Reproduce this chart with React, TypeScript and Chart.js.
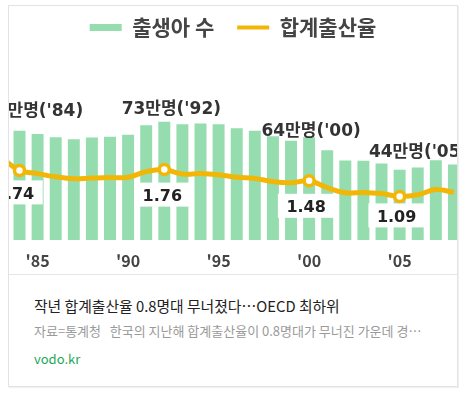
import React, { useEffect, useRef } from 'react';
import { Chart, registerables } from 'chart.js';

Chart.register(...registerables);

// ---- data ----
const YEARS = [1983, 1984, 1985, 1986, 1987, 1988, 1989, 1990, 1991, 1992, 1993, 1994, 1995, 1996, 1997, 1998, 1999, 2000, 2001, 2002, 2003, 2004, 2005, 2006, 2007, 2008];
// births, thousands
const BIRTHS = [769, 675, 655, 636, 623, 633, 639, 650, 709, 731, 716, 721, 715, 691, 675, 641, 614, 635, 555, 492, 490, 473, 435, 448, 493, 466];
// total fertility rate
const RATES = [2.06, 1.74, 1.66, 1.58, 1.53, 1.55, 1.56, 1.57, 1.71, 1.76, 1.65, 1.66, 1.63, 1.57, 1.54, 1.46, 1.43, 1.48, 1.31, 1.18, 1.19, 1.16, 1.09, 1.13, 1.26, 1.19];
const HIGHLIGHT_YEARS = [1984, 1992, 2000, 2005];
const TICK_YEARS = [1985, 1990, 1995, 2000, 2005];
const SERIES_NAMES = ['출생아 수', '합계출산율'];

const TITLE = '작년 합계출산율 0.8명대 무너졌다…OECD 최하위';
const DESC = '자료=통계청   한국의 지난해 합계출산율이 0.8명대가 무너진 가운데 경…';
const SOURCE = 'vodo.kr';

// ---- styles ----
const GREEN = '#95dcae';
const YELLOW = '#f2b706';
const NUM_FONT = '"DejaVu Sans", "Noto Sans CJK KR", sans-serif';
const KR_FONT = '"Noto Sans CJK KR", sans-serif';
const LEGEND_STYLES = ['rect', 'line'];
// label offsets (px) relative to the data point, per highlighted year
const BIRTH_LABEL_OFFSET = [[14, -19], [7, -12], [2, -6], [19, -17]];
const RATE_LABEL_OFFSET = [[-5, 24], [-2, 27], [-3, 27], [-3, 21]];

const yy = (y: number) => String(y).slice(2);

const labelPlugin = {
  id: 'pointLabels',
  beforeDatasetDraw(chart: any, args: any) {
    if (args.index !== 1) return;
    const ctx = chart.ctx;
    const xs = chart.scales.x;
    const yr = chart.scales.yR;
    ctx.save();
    ctx.font = `bold 16px ${NUM_FONT}`;
    ctx.textAlign = 'center';
    ctx.textBaseline = 'middle';
    HIGHLIGHT_YEARS.forEach((yr0, k) => {
      const i = YEARS.indexOf(yr0);
      const text = RATES[i].toFixed(2);
      const cx = xs.getPixelForValue(YEARS[i]) + RATE_LABEL_OFFSET[k][0];
      const cy = yr.getPixelForValue(RATES[i]) + RATE_LABEL_OFFSET[k][1];
      const w = ctx.measureText(text).width + 17;
      ctx.fillStyle = '#ffffff';
      ctx.fillRect(cx - w / 2, cy - 14, w, 24);
      ctx.fillStyle = '#222222';
      ctx.fillText(text, cx, cy);
    });
    ctx.restore();
  },
  afterDatasetsDraw(chart: any) {
    const ctx = chart.ctx;
    const xs = chart.scales.x;
    const yb = chart.scales.yB;
    ctx.save();
    ctx.font = `bold 17px ${NUM_FONT}`;
    ctx.textAlign = 'center';
    ctx.textBaseline = 'middle';
    ctx.fillStyle = '#333333';
    HIGHLIGHT_YEARS.forEach((yr0, k) => {
      const i = YEARS.indexOf(yr0);
      const text = `${Math.round(BIRTHS[i] / 10)}만명('${yy(YEARS[i])})`;
      const cx = xs.getPixelForValue(YEARS[i]) + BIRTH_LABEL_OFFSET[k][0];
      const cy = yb.getPixelForValue(BIRTHS[i]) + BIRTH_LABEL_OFFSET[k][1];
      ctx.fillText(text, cx, cy);
    });
    ctx.restore();
  },
};

function BirthChart() {
  const ref = useRef<HTMLCanvasElement | null>(null);
  useEffect(() => {
    if (!ref.current) return;
    const chart = new Chart(ref.current, {
      type: 'bar',
      data: {
        labels: YEARS,
        datasets: [
          {
            type: 'bar',
            label: SERIES_NAMES[0],
            data: YEARS.map((y, i) => ({ x: y, y: BIRTHS[i] })),
            backgroundColor: GREEN,
            borderWidth: 0,
            yAxisID: 'yB',
            barPercentage: 0.66,
            categoryPercentage: 1,
            order: 1,
          } as any,
          {
            type: 'line',
            label: SERIES_NAMES[1],
            data: YEARS.map((y, i) => ({ x: y, y: RATES[i] })),
            borderColor: YELLOW,
            backgroundColor: YELLOW,
            borderWidth: 5,
            tension: 0.4,
            yAxisID: 'yR',
            order: 0,
            pointStyle: 'circle',
            pointRadius: (c: any) => (HIGHLIGHT_YEARS.includes(YEARS[c.dataIndex]) ? 5 : 0),
            pointBackgroundColor: '#ffffff',
            pointBorderColor: YELLOW,
            pointBorderWidth: 3.5,
          } as any,
        ],
      },
      options: {
        animation: false,
        responsive: true,
        maintainAspectRatio: false,
        layout: { padding: { top: -12, left: 0, right: 0, bottom: 0 } },
        plugins: {
          legend: {
            display: true,
            position: 'top',
            align: 'center',
            labels: {
              usePointStyle: true,
              pointStyleWidth: 32,
              boxHeight: 7,
              padding: 23,
              color: '#444444',
              font: { family: KR_FONT, size: 21, weight: 'bold' },
              sort: (a: any, b: any) => a.datasetIndex - b.datasetIndex,
              generateLabels: (chart: any) =>
                Chart.defaults.plugins.legend.labels.generateLabels(chart).map((item: any) => ({
                  ...item,
                  pointStyle: LEGEND_STYLES[item.datasetIndex],
                  lineWidth: item.datasetIndex === 1 ? 4 : 0,
                  strokeStyle: item.datasetIndex === 1 ? YELLOW : GREEN,
                  fillStyle: item.datasetIndex === 1 ? YELLOW : GREEN,
                })),
            },
          },
          tooltip: { enabled: false },
        },
        scales: {
          x: {
            type: 'linear',
            min: 1983.42,
            max: 2008.17,
            offset: false,
            grid: { display: false, drawTicks: false },
            border: { display: false },
            afterBuildTicks: (s: any) => {
              s.ticks = TICK_YEARS.map((v) => ({ value: v }));
            },
            afterFit: (s: any) => {
              s.height = 34;
            },
            ticks: {
              padding: 11.5,
              color: '#444444',
              font: { family: KR_FONT, size: 16, weight: 'bold' },
              callback: (v: any) => `'${yy(Number(v))}`,
              maxRotation: 0,
              autoSkip: false,
            },
          },
          yB: {
            type: 'linear',
            display: false,
            min: 0,
            max: 1187,
          },
          yR: {
            type: 'linear',
            display: false,
            min: 0,
            max: 4.8,
          },
        },
      } as any,
      plugins: [labelPlugin],
    });
    return () => chart.destroy();
  }, []);
  return <canvas ref={ref} />;
}

export default function App() {
  return (
    <div
      style={{
        position: 'absolute',
        left: 8,
        top: 5,
        width: 450,
        height: 382,
        boxSizing: 'border-box',
        border: '1px solid #e3e3e3',
        boxShadow: '1px 1px 1px rgba(0,0,0,0.06)',
        background: '#ffffff',
        fontFamily: KR_FONT,
      }}
    >
      <div style={{ position: 'absolute', left: 0, top: 0, width: 448, height: 268 }}>
        <BirthChart />
      </div>
      <div style={{ position: 'absolute', left: 0, top: 268, width: 448, height: 1, background: '#e6e6e6' }} />
      <div
        style={{
          position: 'absolute',
          left: 25,
          top: 290,
          fontSize: 14.8,
          lineHeight: '20px',
          color: '#222222',
          whiteSpace: 'nowrap',
        }}
      >
        {TITLE}
      </div>
      <div
        style={{
          position: 'absolute',
          left: 25,
          top: 315,
          fontSize: 13,
          lineHeight: '20px',
          color: '#9a9a9a',
          whiteSpace: 'pre',
        }}
      >
        {DESC}
      </div>
      <div
        style={{
          position: 'absolute',
          left: 25,
          top: 343,
          fontSize: 13,
          lineHeight: '20px',
          color: '#1ea85a',
          whiteSpace: 'nowrap',
        }}
      >
        {SOURCE}
      </div>
    </div>
  );
}
